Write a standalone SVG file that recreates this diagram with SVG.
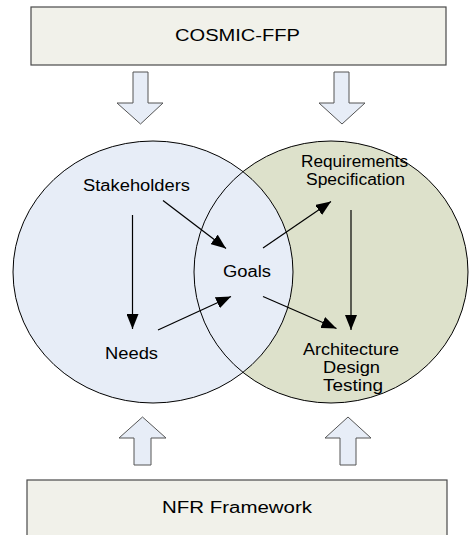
<svg xmlns="http://www.w3.org/2000/svg" width="469" height="535" viewBox="0 0 469 535">
<defs>
<style>
.box{fill:#F1F1EA;stroke:#4a4a4a;stroke-width:1.2}
.big{fill:#E7EDF7;stroke:#555;stroke-width:1}
.t{font-family:"Liberation Sans",Arial,sans-serif;font-size:16px;fill:#000;text-anchor:middle}
.c{stroke:#000;stroke-width:1.2;fill:none;marker-end:url(#ah)}
</style>
<marker id="ah" markerUnits="userSpaceOnUse" markerWidth="16" markerHeight="12" refX="15" refY="6" orient="auto">
<path d="M0,0 L15,6 L0,12 z" fill="#000"/>
</marker>
</defs>
<g id="cosmic">
<rect class="box" x="31" y="7" width="415" height="58"/>
<text class="t" x="237.5" y="41" textLength="125" lengthAdjust="spacingAndGlyphs">COSMIC-FFP</text>
</g>
<g id="nfr">
<rect class="box" x="27" y="480" width="420" height="70"/>
<text class="t" x="237" y="513" textLength="150" lengthAdjust="spacingAndGlyphs">NFR Framework</text>
</g>
<g id="down-arrow-left"><path class="big" d="M133,72 H148 V103 H163 L140.5,124 L117,103 H133 Z"/></g>
<g id="down-arrow-right"><path class="big" d="M334,72 H349 V103 H365 L342,124 L319,103 H334 Z"/></g>
<g id="up-arrow-left"><path class="big" d="M134,465 H151 V438 H166 L142.5,417 L119,438 H134 Z"/></g>
<g id="up-arrow-right"><path class="big" d="M340,465 H356 V438 H371 L348,417 L325,438 H340 Z"/></g>
<g id="venn">
<ellipse cx="331" cy="272" rx="137" ry="131" fill="#DDE1CB" stroke="none"/>
<ellipse cx="153" cy="272" rx="140" ry="131" fill="#E7EDF7" stroke="#000" stroke-width="1"/>
<ellipse cx="331" cy="272" rx="137" ry="131" fill="none" stroke="#000" stroke-width="1"/>
</g>
<g id="stakeholders"><text class="t" x="136.5" y="191" textLength="107" lengthAdjust="spacingAndGlyphs">Stakeholders</text></g>
<g id="needs"><text class="t" x="131.5" y="359" textLength="53" lengthAdjust="spacingAndGlyphs">Needs</text></g>
<g id="goals"><text class="t" x="247" y="277" textLength="48" lengthAdjust="spacingAndGlyphs">Goals</text></g>
<g id="requirements"><text class="t" x="354.5" y="167" textLength="107" lengthAdjust="spacingAndGlyphs">Requirements</text><text class="t" x="355.5" y="185" textLength="99" lengthAdjust="spacingAndGlyphs">Specification</text></g>
<g id="architecture"><text class="t" x="351" y="355" textLength="96" lengthAdjust="spacingAndGlyphs">Architecture</text><text class="t" x="351.5" y="373" textLength="57" lengthAdjust="spacingAndGlyphs">Design</text><text class="t" x="353" y="391" textLength="60" lengthAdjust="spacingAndGlyphs">Testing</text></g>
<g id="connectors">
<line class="c" x1="132.5" y1="215" x2="132.5" y2="329"/>
<line class="c" x1="163" y1="200.5" x2="226" y2="248.5"/>
<line class="c" x1="263" y1="248" x2="331" y2="201.5"/>
<line class="c" x1="351" y1="210" x2="351" y2="330"/>
<line class="c" x1="158" y1="330" x2="231" y2="296.5"/>
<line class="c" x1="263" y1="296.5" x2="336.5" y2="328.5"/>
</g>
</svg>
